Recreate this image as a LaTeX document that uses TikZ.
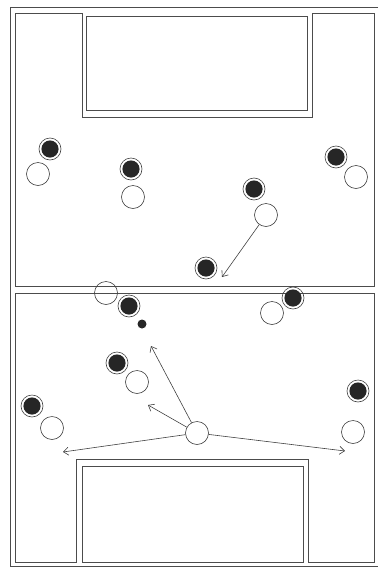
\documentclass[tikz,border=0pt]{standalone}
\usetikzlibrary{arrows.meta}
\tikzset{
  field/.style={line width=0.9pt, draw=black!70},
  opp/.style={circle, draw=black!75, line width=0.6pt, minimum size=22pt, inner sep=0pt,
    path picture={\fill[black!85] (path picture bounding box.center) circle (8.6pt);}},
  own/.style={circle, draw=black!75, line width=0.6pt, minimum size=23pt, inner sep=0pt},
  ball/.style={circle, fill=black!85, minimum size=9pt, inner sep=0pt},
  pass/.style={-{Straight Barb[length=5pt, width=8pt]}, line width=0.6pt, black!75}
}
\begin{document}
\begin{tikzpicture}[x=1pt, y=-1pt]
  \useasboundingbox (0,0) rectangle (378,568);
  % pitch outline
  \draw[field] (378,7) -- (10,7) -- (10,566) -- (378,566);
  \draw[field] (15,286) -- (15,13) -- (82,13) -- (82,117) -- (312,117) -- (312,13) -- (374,13) -- (374,286) -- cycle;
  \draw[field] (86,16) rectangle (307,110);
  \draw[field] (15,293) -- (374,293) -- (374,562) -- (308,562) -- (308,459) -- (76,459) -- (76,562) -- (15,562) -- cycle;
  \draw[field] (82,466) rectangle (303,562);
  % opponents
  \foreach \n/\x/\y in {1/50/149, 2/131/169, 3/336/157, 4/254/189, 5/206/268,
                        6/293/298, 7/129/306, 8/117/363, 9/32/406, 10/358/391} {
    \node[opp] (o\n) at (\x,\y) {};
  }
  % own players
  \foreach \n/\x/\y in {1/38/174, 2/133/197, 3/356/177, 4/266/215, 5/272/313,
                        6/106/293, 7/137/382, 8/52/428, 9/353/432} {
    \node[own] (p\n) at (\x,\y) {};
  }
  \node[own] (k) at (197,433) {};
  \node[ball] (b) at (142,324) {};
  % passing options
  \coordinate (e1) at (222,277);
  \coordinate (a1) at (151,346);
  \coordinate (a2) at (148,405);
  \coordinate (a3) at (63,452);
  \coordinate (a4) at (345,451);
  \draw[pass] (p4) -- (e1);
  \draw[pass] (k) -- (a1);
  \draw[pass] (k) -- (a2);
  \draw[pass] (k) -- (a3);
  \draw[pass] (k) -- (a4);
\end{tikzpicture}
\end{document}
